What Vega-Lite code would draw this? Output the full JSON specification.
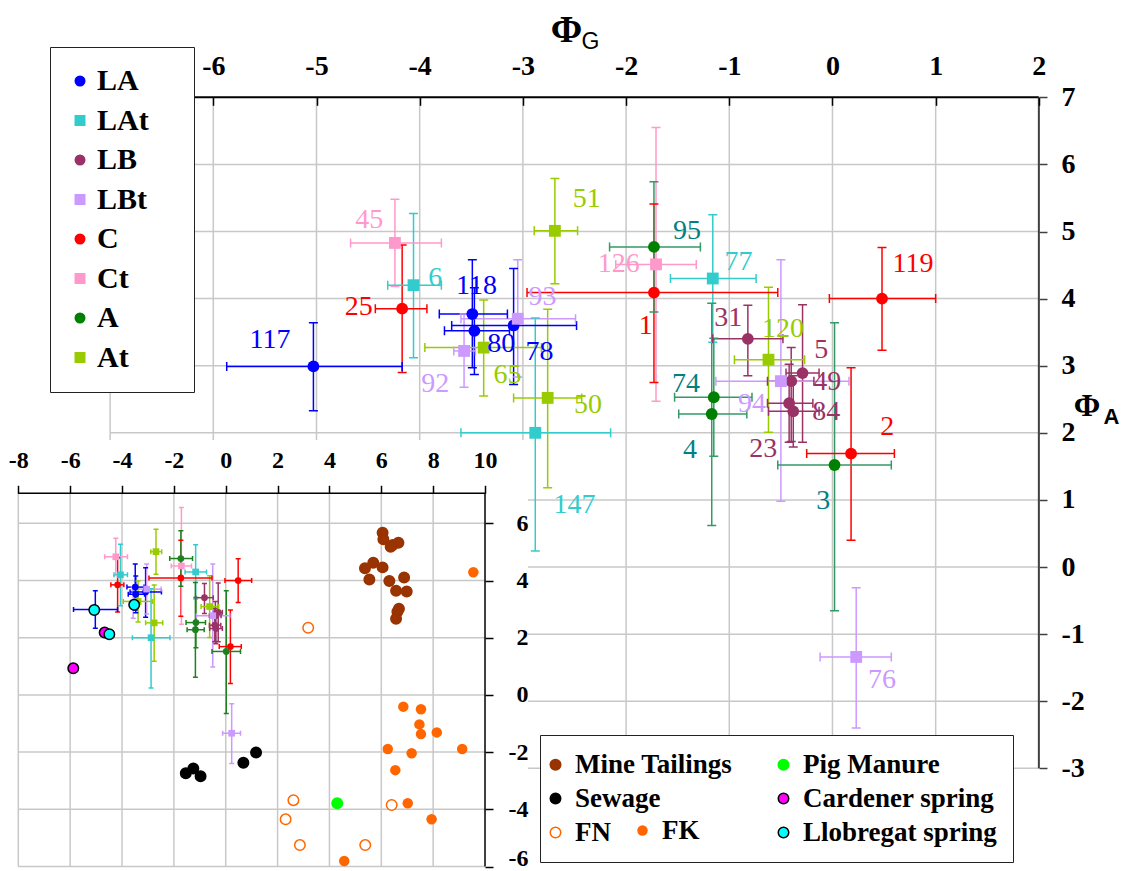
{
  "$schema": "https://vega.github.io/schema/vega-lite/v6.json",
  "width": 1127,
  "height": 871,
  "autosize": {"type": "none"},
  "padding": 0,
  "background": "white",
  "config": {
    "view": {"stroke": null},
    "scale": {"continuousPadding": 0},
    "axis": {"grid": false}
  },
  "datasets": {
    "gv": [{"v": -7}, {"v": -6}, {"v": -5}, {"v": -4}, {"v": -3}, {"v": -2}, {"v": -1}, {"v": 0}, {"v": 1}],
    "gh": [{"h": -3}, {"h": -2}, {"h": -1}, {"h": 0}, {"h": 1}, {"h": 2}, {"h": 3}, {"h": 4}, {"h": 5}, {"h": 6}],
    "igv": [{"v": -8}, {"v": -6}, {"v": -4}, {"v": -2}, {"v": 0}, {"v": 2}, {"v": 4}, {"v": 6}, {"v": 8}],
    "igh": [{"h": -6}, {"h": -4}, {"h": -2}, {"h": 0}, {"h": 2}, {"h": 4}, {"h": 6}],
    "pts": [
      {"id": "117", "group": "LA", "g": -5.03, "a": 2.99, "glo": -5.87, "ghi": -4.17, "alo": 2.33, "ahi": 3.64, "lx": -5.45, "ly": 3.38},
      {"id": "118", "group": "LA", "g": -3.49, "a": 3.77, "glo": -3.81, "ghi": -3.15, "alo": 2.97, "ahi": 4.58, "lx": -3.45, "ly": 4.19},
      {"id": "80", "group": "LA", "g": -3.47, "a": 3.52, "glo": -3.76, "ghi": -3.13, "alo": 2.87, "ahi": 4.16, "lx": -3.21, "ly": 3.32},
      {"id": "78", "group": "LA", "g": -3.09, "a": 3.6, "glo": -3.69, "ghi": -2.48, "alo": 2.72, "ahi": 4.45, "lx": -2.84, "ly": 3.21},
      {"id": "6", "group": "LAt", "g": -4.06, "a": 4.2, "glo": -4.31, "ghi": -3.79, "alo": 3.12, "ahi": 5.27, "lx": -3.85, "ly": 4.3},
      {"id": "147", "group": "LAt", "g": -2.88, "a": 2.0, "glo": -3.6, "ghi": -2.15, "alo": 0.24, "ahi": 3.71, "lx": -2.5, "ly": 0.93},
      {"id": "77", "group": "LAt", "g": -1.16, "a": 4.3, "glo": -1.57, "ghi": -0.74, "alo": 3.35, "ahi": 5.25, "lx": -0.91, "ly": 4.54},
      {"id": "31", "group": "LB", "g": -0.82, "a": 3.4, "glo": -1.16, "ghi": -0.48, "alo": 2.85, "ahi": 3.9, "lx": -1.01, "ly": 3.71},
      {"id": "5", "group": "LB", "g": -0.29, "a": 2.89, "glo": -0.45, "ghi": -0.13, "alo": 1.86, "ahi": 3.91, "lx": -0.11, "ly": 3.23},
      {"id": "49", "group": "LB", "g": -0.4, "a": 2.77, "glo": -0.63, "ghi": -0.18, "alo": 1.87, "ahi": 3.27, "lx": -0.05, "ly": 2.76},
      {"id": "84", "group": "LB", "g": -0.42, "a": 2.44, "glo": -0.63, "ghi": -0.19, "alo": 1.86, "ahi": 3.02, "lx": -0.06, "ly": 2.31},
      {"id": "23", "group": "LB", "g": -0.38, "a": 2.32, "glo": -0.62, "ghi": -0.13, "alo": 1.79, "ahi": 2.85, "lx": -0.67, "ly": 1.76},
      {"id": "92", "group": "LBt", "g": -3.57, "a": 3.22, "glo": -3.67, "ghi": -3.46, "alo": 2.68, "ahi": 3.77, "lx": -3.85, "ly": 2.73},
      {"id": "93", "group": "LBt", "g": -3.05, "a": 3.7, "glo": -3.6, "ghi": -2.49, "alo": 2.83, "ahi": 4.58, "lx": -2.81, "ly": 4.02},
      {"id": "94", "group": "LBt", "g": -0.5, "a": 2.77, "glo": -1.13, "ghi": 0.16, "alo": 0.98, "ahi": 4.58, "lx": -0.78, "ly": 2.43},
      {"id": "76", "group": "LBt", "g": 0.23, "a": -1.34, "glo": -0.12, "ghi": 0.57, "alo": -2.4, "ahi": -0.31, "lx": 0.48, "ly": -1.69},
      {"id": "25", "group": "C", "g": -4.17, "a": 3.85, "glo": -4.43, "ghi": -3.93, "alo": 2.9, "ahi": 4.8, "lx": -4.59, "ly": 3.88},
      {"id": "1", "group": "C", "g": -1.73, "a": 4.09, "glo": -2.96, "ghi": -0.53, "alo": 2.75, "ahi": 5.41, "lx": -1.81, "ly": 3.59},
      {"id": "119", "group": "C", "g": 0.48, "a": 4.0, "glo": -0.03, "ghi": 1.0, "alo": 3.23, "ahi": 4.76, "lx": 0.78, "ly": 4.52},
      {"id": "2", "group": "C", "g": 0.18, "a": 1.69, "glo": -0.25, "ghi": 0.6, "alo": 0.4, "ahi": 2.97, "lx": 0.53, "ly": 2.08},
      {"id": "45", "group": "Ct", "g": -4.24, "a": 4.83, "glo": -4.67, "ghi": -3.79, "alo": 4.18, "ahi": 5.48, "lx": -4.49, "ly": 5.17},
      {"id": "126", "group": "Ct", "g": -1.71, "a": 4.51, "glo": -2.1, "ghi": -1.32, "alo": 2.47, "ahi": 6.55, "lx": -2.07, "ly": 4.52},
      {"id": "95", "group": "A", "g": -1.73, "a": 4.77, "glo": -2.16, "ghi": -1.28, "alo": 3.8, "ahi": 5.74, "lx": -1.41, "ly": 5.01},
      {"id": "74", "group": "A", "g": -1.15, "a": 2.53, "glo": -1.53, "ghi": -0.78, "alo": 1.65, "ahi": 3.41, "lx": -1.42, "ly": 2.73},
      {"id": "4", "group": "A", "g": -1.17, "a": 2.28, "glo": -1.49, "ghi": -0.83, "alo": 0.62, "ahi": 3.93, "lx": -1.38, "ly": 1.75},
      {"id": "3", "group": "A", "g": 0.02, "a": 1.52, "glo": -0.53, "ghi": 0.57, "alo": -0.65, "ahi": 3.64, "lx": -0.09, "ly": 0.99},
      {"id": "51", "group": "At", "g": -2.69, "a": 5.01, "glo": -2.89, "ghi": -2.47, "alo": 4.22, "ahi": 5.79, "lx": -2.38, "ly": 5.49},
      {"id": "65", "group": "At", "g": -3.38, "a": 3.27, "glo": -3.95, "ghi": -2.82, "alo": 2.55, "ahi": 3.98, "lx": -3.15, "ly": 2.86},
      {"id": "50", "group": "At", "g": -2.76, "a": 2.52, "glo": -3.09, "ghi": -2.43, "alo": 1.18, "ahi": 3.84, "lx": -2.37, "ly": 2.41},
      {"id": "120", "group": "At", "g": -0.62, "a": 3.09, "glo": -0.95, "ghi": -0.27, "alo": 2.01, "ahi": 4.17, "lx": -0.48, "ly": 3.54}
    ],
    "src": [
      {"source": "Mine Tailings", "x": 6.05, "y": 5.67}, {"source": "Mine Tailings", "x": 6.08, "y": 5.44},
      {"source": "Mine Tailings", "x": 6.44, "y": 5.24}, {"source": "Mine Tailings", "x": 6.66, "y": 5.32},
      {"source": "Mine Tailings", "x": 6.36, "y": 5.18}, {"source": "Mine Tailings", "x": 5.69, "y": 4.62},
      {"source": "Mine Tailings", "x": 5.37, "y": 4.43}, {"source": "Mine Tailings", "x": 6.05, "y": 4.46},
      {"source": "Mine Tailings", "x": 5.54, "y": 4.04}, {"source": "Mine Tailings", "x": 6.31, "y": 3.98},
      {"source": "Mine Tailings", "x": 6.88, "y": 4.11}, {"source": "Mine Tailings", "x": 6.57, "y": 3.64},
      {"source": "Mine Tailings", "x": 6.98, "y": 3.62}, {"source": "Mine Tailings", "x": 6.68, "y": 3.01},
      {"source": "Mine Tailings", "x": 6.62, "y": 2.91}, {"source": "Mine Tailings", "x": 6.57, "y": 2.66},
      {"source": "Sewage", "x": -1.54, "y": -2.74}, {"source": "Sewage", "x": -1.25, "y": -2.57},
      {"source": "Sewage", "x": -0.97, "y": -2.84}, {"source": "Sewage", "x": 0.68, "y": -2.37},
      {"source": "Sewage", "x": 1.17, "y": -2.01},
      {"source": "Cardener spring", "x": -4.67, "y": 2.18}, {"source": "Cardener spring", "x": -5.88, "y": 0.93},
      {"source": "Llobregat spring", "x": -5.07, "y": 2.97}, {"source": "Llobregat spring", "x": -3.53, "y": 3.15},
      {"source": "Llobregat spring", "x": -4.49, "y": 2.12},
      {"source": "Pig Manure", "x": 4.3, "y": -3.79},
      {"source": "FN", "x": 3.18, "y": 2.35}, {"source": "FN", "x": 2.61, "y": -3.68},
      {"source": "FN", "x": 2.31, "y": -4.35}, {"source": "FN", "x": 2.86, "y": -5.25},
      {"source": "FN", "x": 5.38, "y": -5.25}, {"source": "FN", "x": 6.4, "y": -3.85},
      {"source": "FK", "x": 9.55, "y": 4.29}, {"source": "FK", "x": 6.85, "y": -0.41},
      {"source": "FK", "x": 7.53, "y": -0.5}, {"source": "FK", "x": 7.47, "y": -1.03},
      {"source": "FK", "x": 7.53, "y": -1.37}, {"source": "FK", "x": 8.14, "y": -1.31},
      {"source": "FK", "x": 6.25, "y": -1.89}, {"source": "FK", "x": 7.17, "y": -2.04},
      {"source": "FK", "x": 9.12, "y": -1.89}, {"source": "FK", "x": 6.54, "y": -2.63},
      {"source": "FK", "x": 7.02, "y": -3.79}, {"source": "FK", "x": 7.94, "y": -4.35},
      {"source": "FK", "x": 4.57, "y": -5.81}
    ]
  },
  "layer": [
    {
      "resolve": {"axis": {"x": "independent", "y": "independent"}},
      "layer": [
        {
          "data": {"name": "gv"},
          "mark": {"type": "rule", "color": "#C8C8C8", "strokeWidth": 1.5},
          "encoding": {
            "x": {"field": "v", "type": "quantitative", "scale": {"domain": [-8.067, 2.854], "nice": false, "zero": false},
              "axis": {"orient": "top", "offset": -97.3, "values": [-6, -5, -4, -3, -2, -1, 0, 1, 2], "domain": false, "grid": false, "zindex": 1,
                "ticks": true, "tickSize": -8, "tickColor": "black", "tickWidth": 1.5,
                "labelFont": "Liberation Serif", "labelFontSize": 28, "labelFontWeight": "bold", "labelColor": "black",
                "labelPadding": 25, "labelExpr": "'' + datum.value", "labelFlush": false, "labelOverlap": false,
                "title": "Φ", "titleFont": "Liberation Serif", "titleFontSize": 38, "titleFontWeight": "bold", "titleColor": "black",
                "titleX": 566, "titleY": -56, "titleAlign": "center", "titleBaseline": "alphabetic", "titleAngle": 0}},
            "y": {"datum": -3, "type": "quantitative", "scale": {"domain": [-4.53, 8.45], "nice": false, "zero": false}, "axis": null},
            "y2": {"datum": 7}
          }
        },
        {
          "data": {"name": "gh"},
          "mark": {"type": "rule", "color": "#C8C8C8", "strokeWidth": 1.5},
          "encoding": {
            "y": {"field": "h", "type": "quantitative", "scale": {"domain": [-4.53, 8.45], "nice": false, "zero": false},
              "axis": {"orient": "right", "offset": -88, "values": [-3, -2, -1, 0, 1, 2, 3, 4, 5, 6, 7], "domain": false, "grid": false, "zindex": 1,
                "ticks": true, "tickSize": 8, "tickColor": "#404040", "tickWidth": 1.5,
                "labelFont": "Liberation Serif", "labelFontSize": 28, "labelFontWeight": "bold", "labelColor": "black",
                "labelPadding": 14, "labelAlign": "left", "labelBaseline": "middle", "labelExpr": "'' + datum.value", "labelFlush": false, "labelOverlap": false,
                "title": "Φ", "titleFont": "Liberation Serif", "titleFontSize": 32, "titleFontWeight": "bold", "titleColor": "black",
                "titleX": 47.5, "titleY": 415, "titleAlign": "center", "titleBaseline": "alphabetic", "titleAngle": 0}},
            "x": {"datum": -7, "type": "quantitative", "scale": {"domain": [-8.067, 2.854], "nice": false, "zero": false}, "axis": null},
            "x2": {"datum": 2}
          }
        },
        {
          "data": {"values": [{}]},
          "mark": {"type": "rule", "color": "black", "strokeWidth": 2},
          "encoding": {
            "x": {"datum": -7, "type": "quantitative", "scale": {"domain": [-8.067, 2.854], "nice": false, "zero": false}, "axis": null},
            "x2": {"datum": 2},
            "y": {"datum": 7, "type": "quantitative", "scale": {"domain": [-4.53, 8.45], "nice": false, "zero": false}, "axis": null}
          }
        },
        {
          "data": {"values": [{}]},
          "mark": {"type": "rule", "color": "#404040", "strokeWidth": 2},
          "encoding": {
            "x": {"datum": 2, "type": "quantitative", "scale": {"domain": [-8.067, 2.854], "nice": false, "zero": false}, "axis": null},
            "y": {"datum": -3, "type": "quantitative", "scale": {"domain": [-4.53, 8.45], "nice": false, "zero": false}, "axis": null},
            "y2": {"datum": 7}
          }
        },
        {
          "data": {"name": "pts"},
          "mark": {"type": "rule", "strokeWidth": 1.5},
          "encoding": {
            "x": {"field": "g", "type": "quantitative", "scale": {"domain": [-8.067, 2.854], "nice": false, "zero": false}, "axis": null},
            "y": {"field": "alo", "type": "quantitative", "scale": {"domain": [-4.53, 8.45], "nice": false, "zero": false},
              "axis": {"orient": "right", "offset": -88, "labels": false, "ticks": false, "domain": false, "grid": false,
                "title": "A", "titleFont": "Liberation Sans", "titleFontSize": 22, "titleFontWeight": "bold", "titleColor": "black",
                "titleX": 72, "titleY": 423, "titleAlign": "center", "titleBaseline": "alphabetic", "titleAngle": 0}},
            "y2": {"field": "ahi"},
            "stroke": {"field": "group", "type": "nominal", "scale": {"domain": ["At", "A", "Ct", "C", "LBt", "LB", "LAt", "LA"], "range": ["#99CC00", "#339966", "#FF99CC", "#FF0000", "#CC99FF", "#993366", "#33CCCC", "#0000FF"]}, "legend": null}
          }
        },
        {
          "data": {"name": "pts"},
          "mark": {"type": "rule", "strokeWidth": 1.5},
          "encoding": {
            "x": {"field": "glo", "type": "quantitative", "scale": {"domain": [-8.067, 2.854], "nice": false, "zero": false},
              "axis": {"orient": "top", "offset": -97.3, "labels": false, "ticks": false, "domain": false, "grid": false,
                "title": "G", "titleFont": "Liberation Sans", "titleFontSize": 23, "titleFontWeight": "normal", "titleColor": "black",
                "titleX": 590, "titleY": -49.3, "titleAlign": "center", "titleBaseline": "alphabetic", "titleAngle": 0}},
            "x2": {"field": "ghi"},
            "y": {"field": "a", "type": "quantitative", "scale": {"domain": [-4.53, 8.45], "nice": false, "zero": false}, "axis": null},
            "stroke": {"field": "group", "type": "nominal", "legend": null}
          }
        },
        {
          "data": {"name": "pts"},
          "mark": {"type": "tick", "orient": "horizontal", "filled": false, "thickness": 0, "size": 9, "strokeWidth": 1.5, "opacity": 1},
          "encoding": {
            "x": {"field": "g", "type": "quantitative", "scale": {"domain": [-8.067, 2.854], "nice": false, "zero": false}, "axis": null},
            "y": {"field": "alo", "type": "quantitative", "scale": {"domain": [-4.53, 8.45], "nice": false, "zero": false}, "axis": null},
            "stroke": {"field": "group", "type": "nominal", "legend": null}
          }
        },
        {
          "data": {"name": "pts"},
          "mark": {"type": "tick", "orient": "horizontal", "filled": false, "thickness": 0, "size": 9, "strokeWidth": 1.5, "opacity": 1},
          "encoding": {
            "x": {"field": "g", "type": "quantitative", "scale": {"domain": [-8.067, 2.854], "nice": false, "zero": false}, "axis": null},
            "y": {"field": "ahi", "type": "quantitative", "scale": {"domain": [-4.53, 8.45], "nice": false, "zero": false}, "axis": null},
            "stroke": {"field": "group", "type": "nominal", "legend": null}
          }
        },
        {
          "data": {"name": "pts"},
          "mark": {"type": "tick", "orient": "vertical", "filled": false, "thickness": 0, "size": 9, "strokeWidth": 1.5, "opacity": 1},
          "encoding": {
            "x": {"field": "glo", "type": "quantitative", "scale": {"domain": [-8.067, 2.854], "nice": false, "zero": false}, "axis": null},
            "y": {"field": "a", "type": "quantitative", "scale": {"domain": [-4.53, 8.45], "nice": false, "zero": false}, "axis": null},
            "stroke": {"field": "group", "type": "nominal", "legend": null}
          }
        },
        {
          "data": {"name": "pts"},
          "mark": {"type": "tick", "orient": "vertical", "filled": false, "thickness": 0, "size": 9, "strokeWidth": 1.5, "opacity": 1},
          "encoding": {
            "x": {"field": "ghi", "type": "quantitative", "scale": {"domain": [-8.067, 2.854], "nice": false, "zero": false}, "axis": null},
            "y": {"field": "a", "type": "quantitative", "scale": {"domain": [-4.53, 8.45], "nice": false, "zero": false}, "axis": null},
            "stroke": {"field": "group", "type": "nominal", "legend": null}
          }
        },
        {
          "data": {"name": "pts"},
          "mark": {"type": "point", "filled": true, "size": 140, "opacity": 1},
          "encoding": {
            "x": {"field": "g", "type": "quantitative", "scale": {"domain": [-8.067, 2.854], "nice": false, "zero": false}, "axis": null},
            "y": {"field": "a", "type": "quantitative", "scale": {"domain": [-4.53, 8.45], "nice": false, "zero": false}, "axis": null},
            "color": {"field": "group", "type": "nominal",
              "scale": {"domain": ["LA", "LAt", "LB", "LBt", "C", "Ct", "A", "At"], "range": ["#0000FF", "#33CCCC", "#993366", "#CC99FF", "#FF0000", "#FF99CC", "#008000", "#99CC00"]},
              "legend": {"orient": "none", "legendX": 50, "legendY": 47, "title": "\u00a0\u00a0", "titleOrient": "right", "titlePadding": 26, "titleFontSize": 30, "padding": 19, "strokeColor": "#222222", "fillColor": "white",
                "labelFont": "Liberation Serif", "labelFontSize": 30, "labelFontWeight": "bold", "labelColor": "black",
                "symbolSize": 121, "symbolStrokeWidth": 0, "rowPadding": 9.5, "labelOffset": 2, "symbolOffset": -4, "zindex": 1}},
            "shape": {"field": "group", "type": "nominal",
              "scale": {"domain": ["LA", "LAt", "LB", "LBt", "C", "Ct", "A", "At"], "range": ["circle", "square", "circle", "square", "circle", "square", "circle", "square"]},
              "legend": {"orient": "none", "legendX": 50, "legendY": 47, "title": "\u00a0\u00a0", "titleOrient": "right", "titlePadding": 26, "titleFontSize": 30, "padding": 19, "strokeColor": "#222222", "fillColor": "white",
                "labelFont": "Liberation Serif", "labelFontSize": 30, "labelFontWeight": "bold", "labelColor": "black",
                "symbolSize": 121, "symbolStrokeWidth": 0, "rowPadding": 9.5, "labelOffset": 2, "symbolOffset": -4, "zindex": 1}}
          }
        },
        {
          "data": {"name": "pts"},
          "mark": {"type": "text", "font": "Liberation Serif", "fontSize": 28, "align": "center", "baseline": "middle"},
          "encoding": {
            "x": {"field": "lx", "type": "quantitative", "scale": {"domain": [-8.067, 2.854], "nice": false, "zero": false}, "axis": null},
            "y": {"field": "ly", "type": "quantitative", "scale": {"domain": [-4.53, 8.45], "nice": false, "zero": false}, "axis": null},
            "text": {"field": "id", "type": "nominal"},
            "fill": {"field": "group", "type": "nominal", "scale": {"domain": ["A", "At", "C", "Ct", "LA", "LAt", "LB", "LBt"], "range": ["#008080", "#99CC00", "#FF0000", "#FF99CC", "#0000FF", "#33CCCC", "#993366", "#CC99FF"]}, "legend": null}
          }
        }
      ]
    },
    {
      "resolve": {"axis": {"x": "independent", "y": "independent"}},
      "layer": [
        {
          "data": {"values": [{}]},
          "mark": {"type": "rect", "color": "white"},
          "encoding": {
            "x": {"datum": -8.706, "type": "quantitative", "scale": {"domain": [-8.706, 34.76], "nice": false, "zero": false}, "axis": null},
            "x2": {"datum": 11.66},
            "y": {"datum": 8.91, "type": "quantitative", "scale": {"domain": [-6.157, 24.3], "nice": false, "zero": false}, "axis": null},
            "y2": {"datum": -6.157}
          }
        },
        {
          "data": {"name": "igv"},
          "mark": {"type": "rule", "color": "#C8C8C8", "strokeWidth": 1.5},
          "encoding": {
            "x": {"field": "v", "type": "quantitative", "scale": {"domain": [-8.706, 34.76], "nice": false, "zero": false},
              "axis": {"orient": "top", "offset": -493.3, "values": [-8, -6, -4, -2, 0, 2, 4, 6, 8, 10], "domain": false, "grid": false, "zindex": 1,
                "ticks": true, "tickSize": 8, "tickColor": "black", "tickWidth": 1.5,
                "labelFont": "Liberation Serif", "labelFontSize": 24, "labelFontWeight": "bold", "labelColor": "black",
                "labelPadding": 13, "labelExpr": "'' + datum.value", "labelFlush": false, "labelOverlap": false, "title": null}},
            "y": {"datum": -6, "type": "quantitative", "scale": {"domain": [-6.157, 24.3], "nice": false, "zero": false}, "axis": null},
            "y2": {"datum": 7.05}
          }
        },
        {
          "data": {"name": "igh"},
          "mark": {"type": "rule", "color": "#C8C8C8", "strokeWidth": 1.5},
          "encoding": {
            "y": {"field": "h", "type": "quantitative", "scale": {"domain": [-6.157, 24.3], "nice": false, "zero": false},
              "axis": {"orient": "right", "offset": -642, "values": [-6, -4, -2, 0, 2, 4, 6], "domain": false, "grid": false, "zindex": 1,
                "ticks": true, "tickSize": 8, "tickColor": "black", "tickWidth": 1.5,
                "labelFont": "Liberation Serif", "labelFontSize": 24, "labelFontWeight": "bold", "labelColor": "black",
                "labelPadding": 35, "labelAlign": "right", "labelBaseline": "middle",
                "labelOffset": {"condition": {"test": "datum.value == -6", "value": -8}, "value": 0},
                "labelExpr": "'' + datum.value", "labelFlush": false, "labelOverlap": false, "title": null}},
            "x": {"datum": -8, "type": "quantitative", "scale": {"domain": [-8.706, 34.76], "nice": false, "zero": false}, "axis": null},
            "x2": {"datum": 10}
          }
        },
        {
          "data": {"values": [{}]},
          "mark": {"type": "rule", "color": "black", "strokeWidth": 1.5},
          "encoding": {
            "x": {"datum": -8, "type": "quantitative", "scale": {"domain": [-8.706, 34.76], "nice": false, "zero": false}, "axis": null},
            "x2": {"datum": 10},
            "y": {"datum": 7.05, "type": "quantitative", "scale": {"domain": [-6.157, 24.3], "nice": false, "zero": false}, "axis": null}
          }
        },
        {
          "data": {"values": [{}]},
          "mark": {"type": "rule", "color": "black", "strokeWidth": 1.5},
          "encoding": {
            "x": {"datum": 10, "type": "quantitative", "scale": {"domain": [-8.706, 34.76], "nice": false, "zero": false}, "axis": null},
            "y": {"datum": -6, "type": "quantitative", "scale": {"domain": [-6.157, 24.3], "nice": false, "zero": false}, "axis": null},
            "y2": {"datum": 7.05}
          }
        },
        {
          "data": {"name": "pts"},
          "mark": {"type": "rule", "strokeWidth": 1.5},
          "encoding": {
            "x": {"field": "g", "type": "quantitative", "scale": {"domain": [-8.706, 34.76], "nice": false, "zero": false}, "axis": null},
            "y": {"field": "alo", "type": "quantitative", "scale": {"domain": [-6.157, 24.3], "nice": false, "zero": false}, "axis": null},
            "y2": {"field": "ahi"},
            "color": {"field": "group", "type": "nominal", "scale": {"domain": ["LA", "LAt", "LB", "LBt", "C", "Ct", "A", "At"], "range": ["#0000FF", "#33CCCC", "#993366", "#CC99FF", "#FF0000", "#FF99CC", "#1E801E", "#99CC00"]}, "legend": null}
          }
        },
        {
          "data": {"name": "pts"},
          "mark": {"type": "rule", "strokeWidth": 1.5},
          "encoding": {
            "x": {"field": "glo", "type": "quantitative", "scale": {"domain": [-8.706, 34.76], "nice": false, "zero": false}, "axis": null},
            "x2": {"field": "ghi"},
            "y": {"field": "a", "type": "quantitative", "scale": {"domain": [-6.157, 24.3], "nice": false, "zero": false}, "axis": null},
            "color": {"field": "group", "type": "nominal", "legend": null}
          }
        },
        {
          "data": {"name": "pts"},
          "mark": {"type": "tick", "orient": "horizontal", "filled": false, "thickness": 0, "size": 5, "strokeWidth": 1.5, "opacity": 1},
          "encoding": {
            "x": {"field": "g", "type": "quantitative", "scale": {"domain": [-8.706, 34.76], "nice": false, "zero": false}, "axis": null},
            "y": {"field": "alo", "type": "quantitative", "scale": {"domain": [-6.157, 24.3], "nice": false, "zero": false}, "axis": null},
            "color": {"field": "group", "type": "nominal", "legend": null}
          }
        },
        {
          "data": {"name": "pts"},
          "mark": {"type": "tick", "orient": "horizontal", "filled": false, "thickness": 0, "size": 5, "strokeWidth": 1.5, "opacity": 1},
          "encoding": {
            "x": {"field": "g", "type": "quantitative", "scale": {"domain": [-8.706, 34.76], "nice": false, "zero": false}, "axis": null},
            "y": {"field": "ahi", "type": "quantitative", "scale": {"domain": [-6.157, 24.3], "nice": false, "zero": false}, "axis": null},
            "color": {"field": "group", "type": "nominal", "legend": null}
          }
        },
        {
          "data": {"name": "pts"},
          "mark": {"type": "tick", "orient": "vertical", "filled": false, "thickness": 0, "size": 5, "strokeWidth": 1.5, "opacity": 1},
          "encoding": {
            "x": {"field": "glo", "type": "quantitative", "scale": {"domain": [-8.706, 34.76], "nice": false, "zero": false}, "axis": null},
            "y": {"field": "a", "type": "quantitative", "scale": {"domain": [-6.157, 24.3], "nice": false, "zero": false}, "axis": null},
            "color": {"field": "group", "type": "nominal", "legend": null}
          }
        },
        {
          "data": {"name": "pts"},
          "mark": {"type": "tick", "orient": "vertical", "filled": false, "thickness": 0, "size": 5, "strokeWidth": 1.5, "opacity": 1},
          "encoding": {
            "x": {"field": "ghi", "type": "quantitative", "scale": {"domain": [-8.706, 34.76], "nice": false, "zero": false}, "axis": null},
            "y": {"field": "a", "type": "quantitative", "scale": {"domain": [-6.157, 24.3], "nice": false, "zero": false}, "axis": null},
            "color": {"field": "group", "type": "nominal", "legend": null}
          }
        },
        {
          "data": {"name": "pts"},
          "transform": [{"filter": {"field": "group", "oneOf": ["LA", "LB", "C", "A"]}}],
          "mark": {"type": "point", "filled": true, "shape": "circle", "size": 45, "opacity": 1},
          "encoding": {
            "x": {"field": "g", "type": "quantitative", "scale": {"domain": [-8.706, 34.76], "nice": false, "zero": false}, "axis": null},
            "y": {"field": "a", "type": "quantitative", "scale": {"domain": [-6.157, 24.3], "nice": false, "zero": false}, "axis": null},
            "color": {"field": "group", "type": "nominal", "legend": null}
          }
        },
        {
          "data": {"name": "pts"},
          "transform": [{"filter": {"field": "group", "oneOf": ["LAt", "LBt", "Ct", "At"]}}],
          "mark": {"type": "point", "filled": true, "shape": "square", "size": 45, "opacity": 1},
          "encoding": {
            "x": {"field": "g", "type": "quantitative", "scale": {"domain": [-8.706, 34.76], "nice": false, "zero": false}, "axis": null},
            "y": {"field": "a", "type": "quantitative", "scale": {"domain": [-6.157, 24.3], "nice": false, "zero": false}, "axis": null},
            "color": {"field": "group", "type": "nominal", "legend": null}
          }
        },
        {
          "data": {"name": "src"},
          "transform": [{"filter": "datum.source != 'FK'"}],
          "mark": {"type": "point", "filled": true, "size": 110, "strokeWidth": 1.5, "opacity": 1},
          "encoding": {
            "x": {"field": "x", "type": "quantitative", "scale": {"domain": [-8.706, 34.76], "nice": false, "zero": false}, "axis": null},
            "y": {"field": "y", "type": "quantitative", "scale": {"domain": [-6.157, 24.3], "nice": false, "zero": false}, "axis": null},
            "fill": {"field": "source", "type": "nominal",
              "scale": {"domain": ["Mine Tailings", "Sewage", "FN", "Pig Manure", "Cardener spring", "Llobregat spring"], "range": ["#993300", "#000000", "#FFFFFF", "#00FF00", "#FF00FF", "#00FFFF"]},
              "legend": {"orient": "none", "legendX": 540, "legendY": 735, "title": null, "columns": 2, "columnPadding": 42, "rowPadding": 6, "padding": 16,
                "strokeColor": "#222222", "fillColor": "white", "labelFont": "Liberation Serif", "labelFontSize": 27, "labelFontWeight": "bold", "labelColor": "black",
                "labelLimit": 400, "symbolSize": 110, "symbolStrokeWidth": 1.5, "labelOffset": 6, "symbolOffset": -14, "zindex": 1}},
            "stroke": {"field": "source", "type": "nominal",
              "scale": {"domain": ["Mine Tailings", "Sewage", "FN", "Pig Manure", "Cardener spring", "Llobregat spring"], "range": ["#993300", "#000000", "#FF6600", "#00FF00", "#000000", "#000000"]},
              "legend": {"orient": "none", "legendX": 540, "legendY": 735, "title": null, "columns": 2, "columnPadding": 42, "rowPadding": 6, "padding": 16,
                "strokeColor": "#222222", "fillColor": "white", "labelFont": "Liberation Serif", "labelFontSize": 27, "labelFontWeight": "bold", "labelColor": "black",
                "labelLimit": 400, "symbolSize": 110, "symbolStrokeWidth": 1.5, "labelOffset": 6, "symbolOffset": -14, "zindex": 1}}
          }
        },
        {
          "data": {"name": "src"},
          "transform": [{"filter": "datum.source == 'FK'"}],
          "mark": {"type": "point", "filled": true, "size": 110, "color": "#FF6600", "opacity": 1},
          "encoding": {
            "x": {"field": "x", "type": "quantitative", "scale": {"domain": [-8.706, 34.76], "nice": false, "zero": false}, "axis": null},
            "y": {"field": "y", "type": "quantitative", "scale": {"domain": [-6.157, 24.3], "nice": false, "zero": false}, "axis": null},
            "shape": {"field": "source", "type": "nominal", "scale": {"domain": ["FK"], "range": ["circle"]},
              "legend": {"orient": "none", "legendX": 643, "legendY": 817, "title": null, "padding": 0,
                "labelFont": "Liberation Serif", "labelFontSize": 27, "labelFontWeight": "bold", "labelColor": "black",
                "symbolSize": 110, "symbolFillColor": "#FF6600", "symbolStrokeWidth": 0, "labelOffset": 6, "symbolOffset": -14, "zindex": 2}}
          }
        }
      ]
    }
  ],
  "resolve": {
    "scale": {"x": "independent", "y": "independent", "color": "independent", "shape": "independent", "fill": "independent", "stroke": "independent"}
  }
}
